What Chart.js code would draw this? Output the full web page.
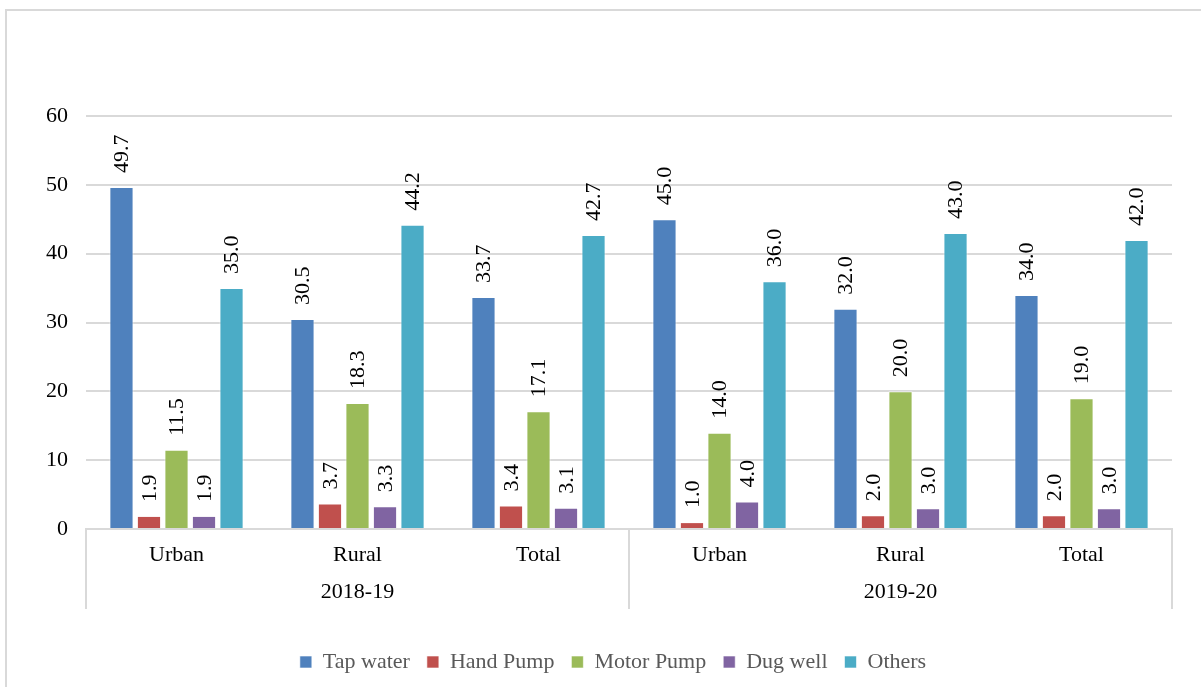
<!DOCTYPE html>
<html>
<head>
<meta charset="utf-8">
<script src="https://cdn.jsdelivr.net/npm/chart.js@4/dist/chart.umd.min.js"></script>
<style>
  html, body { margin: 0; padding: 0; background: #fff; overflow: hidden; }
  #frame { position: absolute; left: 5px; top: 9px; width: 1210px; height: 700px; border: 2px solid #d9d9d9; box-sizing: border-box; }
  #wrap { position: absolute; left: 0; top: 0; width: 1201px; height: 687px; }
</style>
</head>
<body>
<div id="frame"></div>
<div id="wrap"><canvas id="chart" width="1201" height="687"></canvas></div>
<script>
// data
const categories = ['Urban', 'Rural', 'Total', 'Urban', 'Rural', 'Total'];
const groups = ['2018-19', '2019-20'];
const tapWater = [49.7, 30.5, 33.7, 45.0, 32.0, 34.0];
const handPump = [1.9, 3.7, 3.4, 1.0, 2.0, 2.0];
const motorPump = [11.5, 18.3, 17.1, 14.0, 20.0, 19.0];
const dugWell = [1.9, 3.3, 3.1, 4.0, 3.0, 3.0];
const others = [35.0, 44.2, 42.7, 36.0, 43.0, 42.0];

const serif = "'Liberation Serif', 'Times New Roman', serif";

// value labels, turned on their side, above each bar
const barLabels = {
    id: 'barLabels',
    afterDatasetsDraw: function (chart) {
        const ctx = chart.ctx;
        ctx.save();
        ctx.font = '22px ' + serif;
        ctx.fillStyle = '#000';
        ctx.textAlign = 'left';
        ctx.textBaseline = 'middle';
        chart.data.datasets.forEach(function (ds, i) {
            chart.getDatasetMeta(i).data.forEach(function (bar, j) {
                ctx.save();
                ctx.translate(bar.x, bar.y - 14);
                ctx.rotate(-Math.PI / 2);
                ctx.fillText(ds.data[j].toFixed(1), 0, 1);
                ctx.restore();
            });
        });
        ctx.restore();
    }
};

// the two-level category box under the plot
const groupAxis = {
    id: 'groupAxis',
    afterLayout: function (chart) {
        // legend sits a bit right of centre in the original
        chart.legend.left += 27;
        chart.legend.right += 27;
    },
    afterDraw: function (chart) {
        const ctx = chart.ctx;
        const area = chart.chartArea;
        const bottom = area.bottom + 80;
        const step = (area.right - area.left) / categories.length;
        ctx.save();
        ctx.strokeStyle = '#d9d9d9';
        ctx.lineWidth = 2;
        [0, 3, 6].forEach(function (k) {
            const px = Math.round(area.left + k * step);
            ctx.beginPath();
            ctx.moveTo(px, area.bottom);
            ctx.lineTo(px, bottom);
            ctx.stroke();
        });
        ctx.font = '22px ' + serif;
        ctx.fillStyle = '#000';
        ctx.textAlign = 'center';
        ctx.textBaseline = 'middle';
        groups.forEach(function (g, k) {
            ctx.fillText(g, area.left + (k * 3 + 1.5) * step, area.bottom + 63);
        });
        ctx.restore();
    }
};

function ds(label, data, color) {
    return {
        label: label,
        data: data,
        backgroundColor: color,
        borderColor: 'rgba(255,255,255,0.6)',
        borderWidth: 1,
        barPercentage: 0.88,
        categoryPercentage: 0.76
    };
}

new Chart(document.getElementById('chart'), {
    type: 'bar',
    data: {
        labels: categories,
        datasets: [
            ds('Tap water', tapWater, '#4F81BD'),
            ds('Hand Pump', handPump, '#C0504D'),
            ds('Motor Pump', motorPump, '#9BBB59'),
            ds('Dug well', dugWell, '#8064A2'),
            ds('Others', others, '#4BACC6')
        ]
    },
    options: {
        responsive: false,
        animation: false,
        layout: { padding: { top: 116, right: 29, left: 0, bottom: 4 } },
        plugins: {
            tooltip: { enabled: false },
            legend: {
                position: 'bottom',
                title: { display: true, text: ' ', font: { size: 10 }, padding: { top: 8, bottom: 5 } },
                labels: {
                    font: { family: serif, size: 22 },
                    color: '#595959',
                    boxWidth: 12,
                    boxHeight: 12,
                    padding: 17
                }
            }
        },
        scales: {
            x: {
                grid: { display: false, drawTicks: false },
                border: { color: '#d9d9d9', width: 2 },
                ticks: { font: { family: serif, size: 22 }, color: '#000', padding: 13, maxRotation: 0 },
                afterFit: function (s) { s.height = 80; }
            },
            y: {
                min: 0,
                max: 60,
                ticks: { stepSize: 10, font: { family: serif, size: 22 }, color: '#000', padding: 18 },
                grid: { color: '#d9d9d9', lineWidth: 2, drawTicks: false },
                border: { display: false },
                afterFit: function (s) { s.width = 86; }
            }
        }
    },
    plugins: [barLabels, groupAxis]
});
</script>
</body>
</html>
